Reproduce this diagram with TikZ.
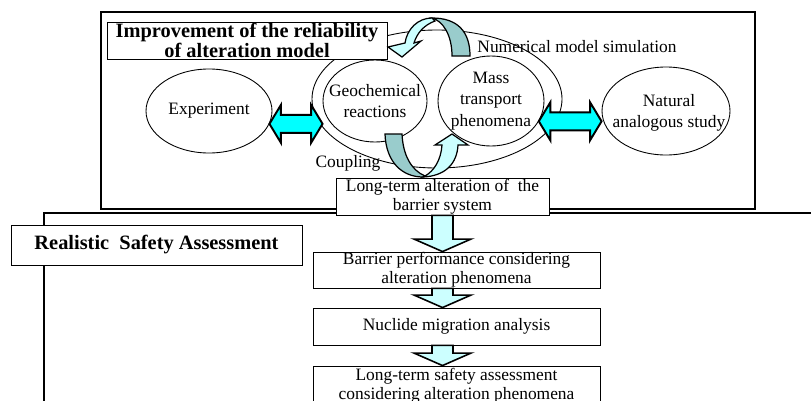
\documentclass[tikz,border=0pt]{standalone}
\usepackage{fontspec}
\setmainfont{Liberation Serif}
\usetikzlibrary{calc,shapes.geometric}
\definecolor{ArrowCyan}{HTML}{00FFFF}
\definecolor{ArrowLight}{HTML}{CCFFFF}
\definecolor{ArrowTeal}{HTML}{99CCCC}
\newcommand{\pxu}{0.2mm}
% block arrow pointing down from #1 to #2 (same x)
\newcommand{\downblock}[2]{%
  \draw[blockarrow] let \p1=(#1), \p2=(#2) in
    (\x1-2.1mm,\y1) -- (\x1+2.1mm,\y1) -- (\x1+2.1mm,\y2+2.5mm) -- (\x1+5.7mm,\y2+2.5mm)
    -- (\x1,\y2) -- (\x1-5.7mm,\y2+2.5mm) -- (\x1-2.1mm,\y2+2.5mm) -- cycle;}
% left-right block arrow, tips at #1 and at the x of #2
\newcommand{\lrblock}[2]{%
  \draw[dblarrow] let \p1=(#1), \p2=(#2) in
    (\x1,\y1) -- (\x1+2.3mm,\y1+3.8mm) -- (\x1+2.3mm,\y1+1.8mm) -- (\x2-2.3mm,\y1+1.8mm)
    -- (\x2-2.3mm,\y1+3.8mm) -- (\x2,\y1) -- (\x2-2.3mm,\y1-3.8mm) -- (\x2-2.3mm,\y1-1.8mm)
    -- (\x1+2.3mm,\y1-1.8mm) -- (\x1+2.3mm,\y1-3.8mm) -- cycle;}

\begin{document}
\begin{tikzpicture}[
  x=\pxu, y=-\pxu,
  frame/.style={line width=1pt},
  box/.style={draw,line width=0.5pt,fill=white,align=center,inner sep=0pt,
    font=\fontsize{9.9}{10.8}\selectfont},
  titlebox/.style={box,font=\bfseries\fontsize{11.6}{10.3}\selectfont},
  oval/.style={draw,ellipse,line width=0.5pt,inner sep=0pt},
  ovaltext/.style={align=center,inner sep=0pt,font=\fontsize{9.9}{12.2}\selectfont},
  plain/.style={inner sep=0pt,font=\fontsize{9.9}{11}\selectfont},
  dblarrow/.style={draw,line width=1.1pt,fill=ArrowCyan,line join=miter},
  blockarrow/.style={draw,line width=0.9pt,fill=ArrowLight},
  curvedark/.style={draw,line width=0.7pt,fill=ArrowTeal},
  curvelight/.style={draw,line width=0.7pt,fill=ArrowLight}
]
  \useasboundingbox (0,0) rectangle (811,400);
  \clip (0,0) rectangle (811,400);

  % frames
  \draw[frame] (44,420) -- (44,213) -- (830,213);
  \draw[frame] (101,12) rectangle (755,209);

  % alteration model
  \node[oval, minimum width=250*\pxu, minimum height=138*\pxu] (numsim) at (437,99) {};
  \node[plain] (numlabel) at (577,47) {Numerical model simulation};
  \node[plain] (couplabel) at (348,163) {Coupling};
  \node[oval, minimum width=126*\pxu, minimum height=84*\pxu,
    label={[ovaltext]center:Experiment}] (exper) at (209,111) {};
  \node[oval, minimum width=104*\pxu, minimum height=82*\pxu,
    label={[ovaltext]center:{Geochemical\\reactions}}] (geo) at (375,101) {};
  \node[oval, minimum width=106*\pxu, minimum height=90*\pxu,
    label={[ovaltext]center:{Mass\\transport\\phenomena}}] (mass) at (491,101) {};
  \node[oval, minimum width=128*\pxu, minimum height=88*\pxu,
    label={[ovaltext,xshift=0.6mm,yshift=-0.4mm]center:{Natural\\analogous study}}] (natural) at (666,111) {};
  \node[titlebox, minimum width=280*\pxu, minimum height=37*\pxu] (improve) at (247,40.5)
    {Improvement of the reliability\\of alteration model};

  % coupling arrows
  \draw[curvedark] (452,56) -- (470,56) .. controls (470,32) and (458,18) .. (432,18)
    .. controls (443,21) and (452,35) .. (452,56) -- cycle;
  \draw[curvelight] (432,18) .. controls (418,18) and (407,29) .. (405,43) -- (388,47) -- (402,57)
    -- (421,41) -- (414,43) .. controls (417,33) and (424,25) .. (435,21) -- cycle;
  \draw[curvedark] (385,134) -- (402,134) .. controls (403,155) and (411,170) .. (425,176)
    -- (423,177) .. controls (402,177) and (386,162) .. (385,134) -- cycle;
  \draw[curvelight] (423,177) .. controls (445,176) and (457,164) .. (458,145) -- (468,145)
    -- (452,134) -- (435,145) -- (442,145) .. controls (441,160) and (434,171) .. (425,176) -- cycle;

  \lrblock{exper.-12}{geo.west}
  \lrblock{mass.-23}{natural.west}

  % safety assessment
  \node[box, minimum width=213*\pxu, minimum height=37*\pxu] (alter) at (442.5,196.5)
    {Long-term alteration of~ the\\barrier system};
  \node[titlebox, minimum width=291*\pxu, minimum height=40*\pxu] (realistic) at (156.5,245)
    {Realistic~ Safety Assessment};
  \node[box, minimum width=287*\pxu, minimum height=36*\pxu] (barrier) at (456.5,270)
    {Barrier performance considering\\alteration phenomena};
  \node[box, minimum width=287*\pxu, minimum height=37*\pxu] (nuclide) at (456.5,326.5)
    {Nuclide migration analysis};
  \node[box, minimum width=287*\pxu, minimum height=40*\pxu] (safety) at (456.5,386)
    {Long-term safety assessment\\considering alteration phenomena};

  \downblock{alter.south}{alter.south |- barrier.north}
  \downblock{alter.south |- barrier.south}{alter.south |- nuclide.north}
  \downblock{alter.south |- nuclide.south}{alter.south |- safety.north}
\end{tikzpicture}
\end{document}
